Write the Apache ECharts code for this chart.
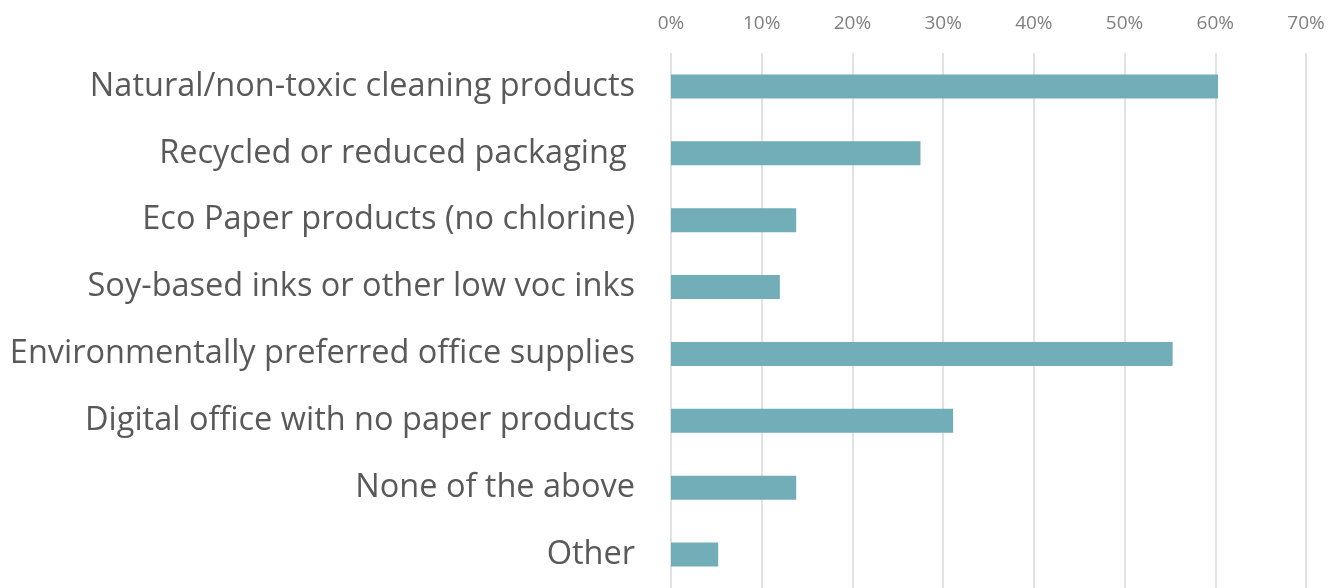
<!DOCTYPE html>
<html>
<head>
<meta charset="utf-8">
<script src="https://cdn.jsdelivr.net/npm/echarts@6/dist/echarts.min.js"></script>
<style>
  html, body { margin: 0; padding: 0; background: #ffffff; }
  #chart { width: 1341px; height: 588px; }
</style>
</head>
<body>
<div id="chart"></div>
<script>
// Survey answers: share of respondents choosing each green option
const categories = [
  'Natural/non-toxic cleaning products',
  'Recycled or reduced packaging ',
  'Eco Paper products (no chlorine)',
  'Soy-based inks or other low voc inks',
  'Environmentally preferred office supplies',
  'Digital office with no paper products',
  'None of the above',
  'Other'
];
const shares = [60.3, 27.5, 13.8, 12.0, 55.3, 31.1, 13.8, 5.2];

// Percentage scale shown along the top
const axisMax = 70;
const axisStep = 10;

const chart = echarts.init(document.getElementById('chart'), null, { renderer: 'canvas' });

chart.setOption({
  animation: false,
  backgroundColor: '#ffffff',
  grid: { left: 671, right: 35, top: 53, bottom: 0, containLabel: false },
  xAxis: {
    type: 'value',
    position: 'top',
    min: 0,
    max: axisMax,
    interval: axisStep,
    axisLine: { show: false },
    axisTick: { show: false },
    axisLabel: {
      formatter: '{value}%',
      color: '#7f7f7f',
      fontFamily: 'Open Sans',
      fontSize: 19,
      margin: 20
    },
    splitLine: { show: true, lineStyle: { color: '#d9d9d9', width: 1.5 } }
  },
  yAxis: {
    type: 'category',
    data: categories,
    inverse: true,
    axisLine: { show: false },
    axisTick: { show: false },
    axisLabel: {
      color: '#595959',
      fontFamily: 'Open Sans',
      fontSize: 32.5,
      margin: 36
    }
  },
  series: [{
    type: 'bar',
    data: shares,
    barWidth: 24,
    itemStyle: { color: '#72aeb8' }
  }]
});
</script>
</body>
</html>
